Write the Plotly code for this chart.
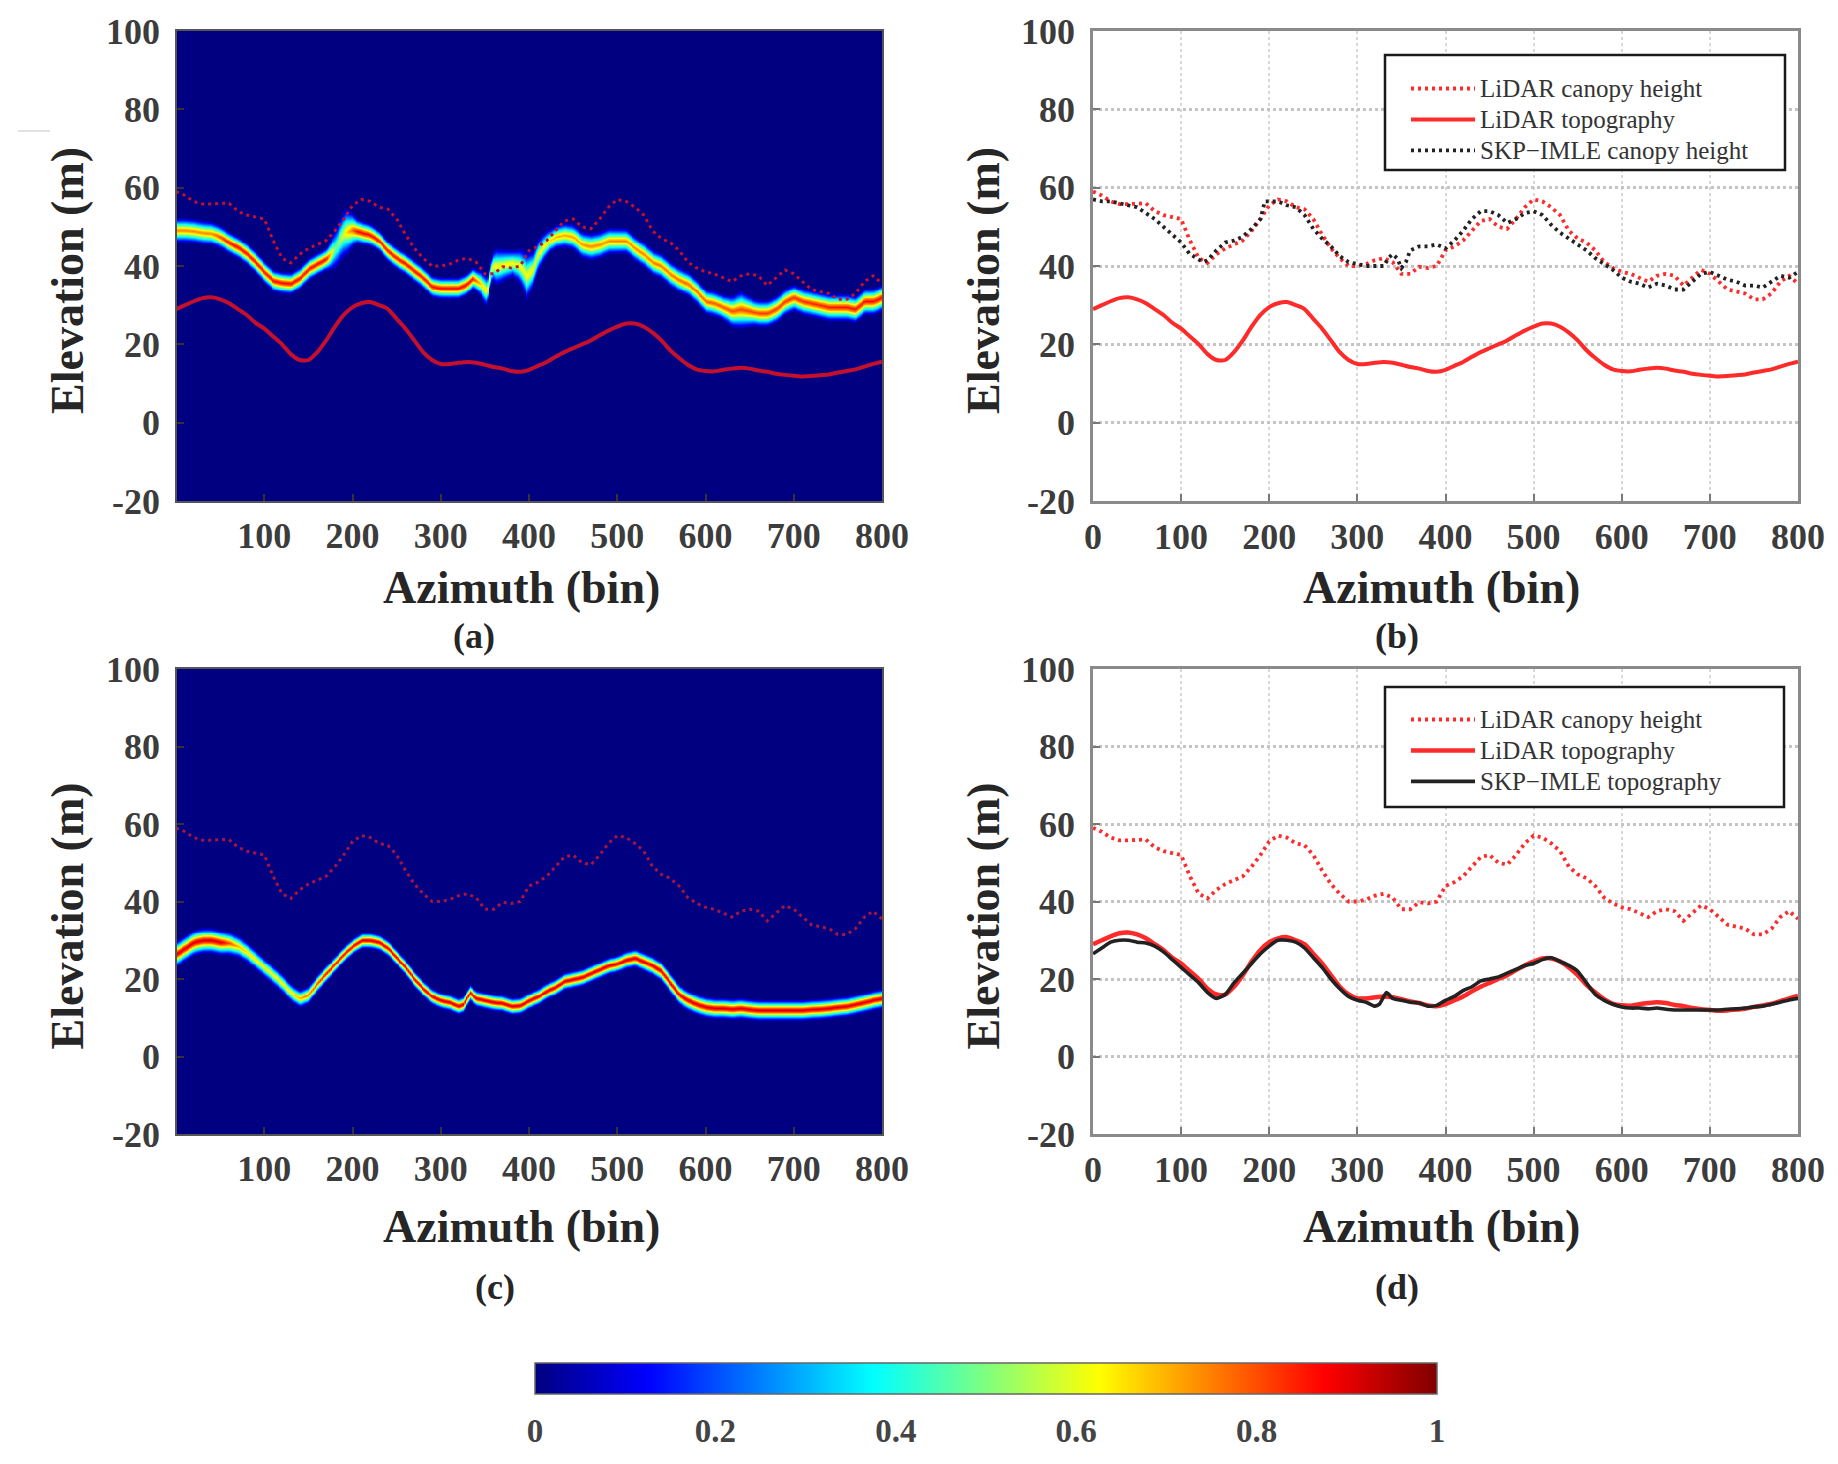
import numpy as np
import plotly.graph_objects as go

W, H = 1838, 1464

# ---- data ----
bins = list(range(0, 801, 10))
lidar_canopy = [59, 58, 56.5, 55.8, 55.8, 56, 56, 54, 53, 52.5, 52, 46.5, 42, 40.8, 43, 44.5, 45.5, 46.5, 49, 52,
                55.5, 57, 56.5, 55, 54.5, 52, 48, 44.5, 42, 40, 40, 40.5, 41.5, 42, 41, 38, 38, 39.8, 39.5, 40,
                44, 45, 46.5, 49, 51.5, 52, 50, 49.5, 52, 55, 57, 56.5, 55, 53, 49, 47, 46, 44, 41, 39.5,
                38.5, 38, 37, 36, 37.5, 38, 37.5, 35, 37, 39, 38, 36, 34, 33.5, 33, 31.5, 31.5, 33, 36, 37.5, 35.5]
lidar_topography = [29, 30, 31, 31.8, 32, 31.5, 30.5, 29, 27.5, 25.5, 24, 22, 20, 17.5, 16, 16, 18, 21, 24.5, 27.5,
                    29.5, 30.5, 30.8, 30, 29, 26.5, 24, 21, 18, 16, 15, 15, 15.3, 15.5, 15.3, 14.8, 14.2, 13.8, 13.2, 13,
                    13.5, 14.5, 15.5, 16.8, 18, 19, 20, 21, 22.3, 23.5, 24.5, 25.3, 25.3, 24.5, 23, 21, 18.5, 16.5, 14.8, 13.6,
                    13.2, 13.1, 13.5, 13.8, 14, 13.8, 13.3, 13, 12.5, 12.2, 12, 11.8, 11.9, 12.1, 12.3, 12.8, 13.2, 13.6, 14.3, 15, 15.6]

skp_canopy_bins = [0, 10, 20, 30, 40, 50, 60, 70, 80, 90, 100, 110, 120, 125, 130, 140, 150, 160, 170, 180, 190, 195,
                   200, 210, 220, 230, 240, 250, 260, 270, 280, 290, 300, 310, 320, 330, 335, 340, 345, 350, 355, 360,
                   370, 380, 390, 400, 410, 420, 430, 440, 450, 460, 470, 480, 490, 500, 510, 520, 530, 540, 550, 560,
                   570, 580, 590, 600, 610, 620, 630, 640, 650, 660, 670, 680, 690, 700, 710, 720, 730, 740, 750, 760,
                   770, 780, 790, 800]
skp_canopy = [57, 56.5, 56.5, 56, 55.5, 55, 53.5, 52, 50, 48, 46, 43, 41.5, 41, 41.5, 44, 46, 46.5, 47.5, 49.5, 52, 56.5,
              56.5, 56.5, 55.5, 55, 53, 49.5, 47, 45, 42.5, 41, 40.5, 40, 40, 40, 42, 43, 42, 39.5, 41, 44,
              45, 45, 45.5, 44.5, 46.5, 49, 52, 54, 54, 53, 51, 52, 53.5, 54, 53, 50.5, 48.5, 47, 45.5, 44,
              42, 40.5, 39, 37, 36, 35.5, 34.5, 35.5, 35, 34, 34, 36, 38, 38.5, 37.5, 36.5, 36, 35, 35, 34.5,
              36, 37.5, 37, 38.5]

skp_topo_bins = [0, 10, 20, 30, 40, 50, 60, 70, 80, 90, 100, 110, 120, 130, 140, 150, 160, 170, 180, 190, 200, 210,
                 220, 230, 240, 250, 260, 270, 280, 290, 300, 310, 320, 325, 333, 340, 350, 360, 370, 380, 390, 400,
                 410, 420, 430, 440, 450, 460, 470, 480, 490, 500, 510, 520, 530, 540, 550, 560, 570, 580, 590, 600,
                 610, 620, 630, 640, 650, 660, 670, 680, 690, 700, 710, 720, 730, 740, 750, 760, 770, 780, 790, 800]
skp_topography = [26.5, 28, 29.5, 30, 30, 29.5, 29.3, 28.5, 27, 25, 23, 21, 19, 16.5, 15, 16, 19, 21.5, 24, 26.5, 28.5, 30,
                  30, 29.5, 28, 25.5, 23, 20, 17.5, 15.5, 14.5, 14, 13, 13.5, 16.5, 15, 14.5, 14, 13.8, 13, 13.2, 14.5,
                  15.5, 17, 18, 19.5, 20, 20.5, 21.5, 22.5, 23.5, 24, 25, 25.5, 24.5, 23.5, 22, 19, 16, 14.5, 13.5, 12.8,
                  12.5, 12.5, 12.3, 12.5, 12.2, 12, 12, 12, 12, 12, 12, 12.2, 12.3, 12.5, 12.8, 13, 13.5, 14, 14.6, 15]

# tomogram (a): ridge centre, half width and peak of the bright band, by azimuth
ridge_a_bins = [1, 10, 20, 30, 40, 50, 60, 70, 80, 90, 100, 110, 120, 130, 140, 150, 160, 170, 180, 190, 200, 210,
                220, 230, 240, 250, 260, 270, 280, 290, 300, 310, 320, 330, 336, 345, 352, 358, 365, 381, 390, 397, 405,
                410, 420, 430, 440, 450, 460, 470, 480, 490, 500, 510, 520, 530, 540, 550, 560, 570, 580, 590, 600, 610,
                620, 630, 640, 650, 660, 670, 680, 690, 700, 710, 720, 730, 740, 750, 760, 770, 780, 790, 800]
ridge_a = [49.2, 49.2, 49, 48.6, 48.4, 47.5, 46, 44.8, 43.2, 41, 38.5, 36.3, 35.8, 35.6, 37, 39.3, 40.6, 41.8, 44.5, 48.5, 49.3, 48.6,
           48, 46.5, 43.8, 42, 40.6, 38.8, 37, 34.8, 34.4, 34.4, 34.4, 35.5, 37, 35.5, 33.5, 40, 40, 40.8, 40, 37.5, 39.5,
           43, 46, 47.5, 48, 47.5, 45.5, 45, 45.5, 46.5, 46.5, 46.5, 44.5, 43, 41, 40, 38, 36.5, 35.5, 33.5, 31, 30.5,
           29.5, 28.5, 29, 28.5, 28, 28, 29, 31, 32, 31, 30.5, 30, 29.5, 29.5, 29.5, 29, 31, 31, 32]
width_a_bins = [1, 40, 60, 170, 180, 192, 205, 230, 340, 350, 356, 362, 381, 390, 397, 405, 424, 470, 520, 620, 640, 655, 800]
width_a = [3.3, 3.2, 3, 3, 5.5, 6.5, 3.4, 2.9, 3, 4.3, 3, 5, 3.6, 4.8, 6.5, 4.8, 3.2, 3.7, 3.4, 3.4, 5, 3.6, 3.6]
peak_a_bins = [1, 40, 60, 170, 180, 190, 205, 335, 345, 358, 412, 430, 470, 500, 800]
peak_a = [0.85, 0.85, 1.0, 1.0, 0.55, 0.7, 1.0, 1.0, 0.78, 0.72, 0.72, 0.8, 0.85, 0.85, 1.0]

# tomogram (c) follows the estimated ground ridge
width_c_bins = [1, 50, 80, 200, 500, 560, 800]
width_c = [3.5, 3.4, 2.8, 2.2, 2.4, 2.8, 2.7]
peak_c_bins = [1, 50, 70, 100, 130, 145, 170, 220, 300, 800]
peak_c = [1.05, 1.05, 0.8, 0.72, 0.75, 0.85, 1.0, 1.05, 1.05, 1.05]

# brightness across the band, from lower edge to upper edge
band_offset = [-1, -0.8, -0.6, -0.4, -0.2, 0, 0.2, 0.4, 0.6, 0.8, 1]
band_level = [0, 0.14, 0.32, 0.52, 0.74, 0.88, 0.74, 0.52, 0.32, 0.14, 0]

y_ticks = [-20, 0, 20, 40, 60, 80, 100]
y_labels = ["-20", "0", "20", "40", "60", "80", "100"]
x_ticks_img = [100, 200, 300, 400, 500, 600, 700, 800]
x_ticks_line = [0, 100, 200, 300, 400, 500, 600, 700, 800]
cbar_ticks = [0, 0.2, 0.4, 0.6, 0.8, 1]
cbar_labels = ["0", "0.2", "0.4", "0.6", "0.8", "1"]

jet = [[0, "#000080"], [0.125, "#0000ff"], [0.375, "#00ffff"], [0.625, "#ffff00"], [0.875, "#ff0000"], [1, "#800000"]]

SERIF = "Liberation Serif"
TICK = "#3c3c3c"
TITLE = "#262626"


def tomogram(c_bins, centre, w_bins, w, p_bins, p):
    col = np.arange(1, 801, 2.0)
    row = np.arange(-20, 100.01, 0.25)
    cc = np.interp(col, c_bins, centre)
    ww = np.interp(col, w_bins, w)
    pp = np.interp(col, p_bins, p)
    u = (row[:, None] - cc[None, :]) / ww[None, :]
    z = np.interp(u, band_offset, band_level, left=0, right=0) * pp[None, :]
    return col, row, z


def px(x):
    return x / W


def py(y):
    return 1 - y / H


def entry(text):
    # row height follows the legend font size; the entry text is drawn a little larger
    return '<span style="font-size:25px">%s</span>' % text


panels = {
    "a": dict(x=(177, 882), y=(31, 501), ax="x", ay="y"),
    "b": dict(x=(1093, 1798), y=(31, 501), ax="x2", ay="y2"),
    "c": dict(x=(177, 882), y=(669, 1134), ax="x3", ay="y3"),
    "d": dict(x=(1093, 1798), y=(669, 1134), ax="x4", ay="y4"),
}

fig = go.Figure()

# (a)
xa, ya, za = tomogram(ridge_a_bins, ridge_a, width_a_bins, width_a, peak_a_bins, peak_a)
fig.add_trace(go.Heatmap(x=xa, y=ya, z=za, coloraxis="coloraxis", zsmooth="best", xaxis="x", yaxis="y"))
DARK = "#c4102c"
fig.add_trace(go.Scatter(x=bins, y=lidar_canopy, mode="lines", xaxis="x", yaxis="y", showlegend=False,
                         line=dict(color=DARK, width=3, dash="3px,4px")))
fig.add_trace(go.Scatter(x=bins, y=lidar_topography, mode="lines", xaxis="x", yaxis="y", showlegend=False,
                         line=dict(color=DARK, width=4, shape="spline", smoothing=0.7)))
# (c)
xc, yc, zc = tomogram(skp_topo_bins, skp_topography, width_c_bins, width_c, peak_c_bins, peak_c)
fig.add_trace(go.Heatmap(x=xc, y=yc, z=zc, coloraxis="coloraxis", zsmooth="best", xaxis="x3", yaxis="y3"))
fig.add_trace(go.Scatter(x=bins, y=lidar_canopy, mode="lines", xaxis="x3", yaxis="y3", showlegend=False,
                         line=dict(color="#a81440", width=3, dash="3px,4px")))

RED = "#ff2a2a"
BLACK = "#222222"
# (b)
fig.add_trace(go.Scatter(x=bins, y=lidar_canopy, mode="lines", xaxis="x2", yaxis="y2", legend="legend",
                         name=entry("LiDAR canopy height"), line=dict(color=RED, width=3.8, dash="3px,4px")))
fig.add_trace(go.Scatter(x=bins, y=lidar_topography, mode="lines", xaxis="x2", yaxis="y2", legend="legend",
                         name=entry("LiDAR topography"), line=dict(color=RED, width=4, shape="spline", smoothing=0.7)))
fig.add_trace(go.Scatter(x=skp_canopy_bins, y=skp_canopy, mode="lines", xaxis="x2", yaxis="y2", legend="legend",
                         name=entry("SKP\u2212IMLE canopy height"), line=dict(color=BLACK, width=3.8, dash="3px,4px")))
# (d)
fig.add_trace(go.Scatter(x=bins, y=lidar_canopy, mode="lines", xaxis="x4", yaxis="y4", legend="legend2",
                         name=entry("LiDAR canopy height"), line=dict(color=RED, width=3.8, dash="3px,4px")))
fig.add_trace(go.Scatter(x=bins, y=lidar_topography, mode="lines", xaxis="x4", yaxis="y4", legend="legend2",
                         name=entry("LiDAR topography"), line=dict(color=RED, width=4.5, shape="spline", smoothing=0.7)))
fig.add_trace(go.Scatter(x=skp_topo_bins, y=skp_topography, mode="lines", xaxis="x4", yaxis="y4", legend="legend2",
                         name=entry("SKP\u2212IMLE topography"), line=dict(color=BLACK, width=3.6, shape="spline", smoothing=0.5)))


def x_axis(p, image):
    d = panels[p]
    return dict(
        domain=[px(d["x"][0]), px(d["x"][1])], anchor=d["ay"],
        range=[1, 800] if image else [0, 800],
        tickmode="array", tickvals=x_ticks_img if image else x_ticks_line,
        tickfont=dict(family=SERIF, size=36, color=TICK, weight="bold"), tickangle=0,
        ticks="inside", ticklen=7, tickwidth=1.5, tickcolor="#333" if image else "#777",
        ticklabelstandoff=2, showline=True, mirror=True,
        linecolor="#555" if image else "#8a8a8a", linewidth=1.5 if image else 2.5,
        showgrid=not image, gridcolor="#d8d8d8", griddash="dot", gridwidth=1.5, zeroline=False,
    )


def y_axis(p, image):
    d = panels[p]
    return dict(
        domain=[py(d["y"][1]), py(d["y"][0])], anchor=d["ax"], range=[-20, 100],
        tickmode="array", tickvals=y_ticks, ticktext=y_labels,
        tickfont=dict(family=SERIF, size=36, color=TICK, weight="bold"),
        ticks="inside", ticklen=7, tickwidth=1.5, tickcolor="#333" if image else "#777",
        ticklabelstandoff=8, showline=True, mirror=True,
        linecolor="#555" if image else "#8a8a8a", linewidth=1.5 if image else 2.5,
        showgrid=not image, gridcolor="#c4c4c4", griddash="dot", gridwidth=2.5, zeroline=False,
    )


def note(text, x, y, size, angle=0):
    return dict(text="<b>%s</b>" % text, x=px(x), y=py(y), xref="paper", yref="paper", showarrow=False,
                xanchor="center", yanchor="middle", textangle=angle,
                font=dict(family=SERIF, size=size, color=TITLE))


annotations = []
for left, azimuth_left, top, bottom, xlab in [(0, 0, 31, 501, 587), (916, 920, 31, 501, 587),
                                              (0, 0, 669, 1134, 1226), (916, 920, 669, 1134, 1226)]:
    annotations.append(note("Azimuth (bin)", 521 + azimuth_left, xlab, 46))
    annotations.append(note("Elevation (m)", 67 + left, (top + bottom) / 2 + 15, 46, -90))
annotations += [note("(a)", 474, 636, 36), note("(b)", 1397, 636, 36), note("(c)", 495, 1287, 36), note("(d)", 1397, 1287, 36)]


def legend_at(x, y):
    return dict(x=px(x), y=py(y), xanchor="left", yanchor="top", bgcolor="rgba(0,0,0,0)", borderwidth=0,
                itemwidth=64, font=dict(family=SERIF, size=21.5, color="#333"), tracegroupgap=0,
                itemclick=False, itemdoubleclick=False)


def frame(x0, y0, x1, y1):
    return dict(type="rect", xref="paper", yref="paper", x0=px(x0), x1=px(x1), y0=py(y0), y1=py(y1),
                line=dict(color="#1a1a1a", width=2.5), fillcolor="white", layer="above")


bar_left, bar_right, bar_top, bar_bottom = 535, 1437, 1363, 1394
bar_marks = [dict(type="line", xref="paper", yref="paper",
                  x0=px(bar_left + (bar_right - bar_left) * v), x1=px(bar_left + (bar_right - bar_left) * v),
                  y0=py(bar_bottom), y1=py(bar_bottom - 9), line=dict(color="#444", width=1.5))
             for v in cbar_ticks[1:-1]]

fig.update_layout(
    width=W, height=H, margin=dict(l=0, r=0, t=0, b=0, pad=0, autoexpand=False),
    paper_bgcolor="white", plot_bgcolor="white", showlegend=True,
    xaxis=x_axis("a", True), yaxis=y_axis("a", True),
    xaxis2=x_axis("b", False), yaxis2=y_axis("b", False),
    xaxis3=x_axis("c", True), yaxis3=y_axis("c", True),
    xaxis4=x_axis("d", False), yaxis4=y_axis("d", False),
    legend=legend_at(1406, 68), legend2=legend_at(1406, 699),
    shapes=[frame(1385, 55, 1785, 170), frame(1385, 687, 1784, 807),
            dict(type="line", xref="paper", yref="paper", x0=px(18), x1=px(50), y0=py(131), y1=py(131),
                 line=dict(color="#d8d8d8", width=1.5))] + bar_marks,
    annotations=annotations,
    coloraxis=dict(
        cmin=0, cmax=1, colorscale=jet,
        colorbar=dict(orientation="h", x=px(bar_left), xanchor="left", y=py(bar_top), yanchor="top",
                      len=bar_right - bar_left, lenmode="pixels", thickness=bar_bottom - bar_top,
                      thicknessmode="pixels", xpad=0, ypad=0,
                      tickmode="array", tickvals=cbar_ticks, ticktext=cbar_labels,
                      ticks="outside", ticklen=8, tickwidth=1, tickcolor="rgba(0,0,0,0)",
                      tickfont=dict(family=SERIF, size=33, color="#444", weight="bold"),
                      outlinecolor="#666", outlinewidth=1.5, borderwidth=0),
    ),
)

fig.write_html("out.html", config={"displayModeBar": False},
               post_script="document.body.style.margin='0';document.body.style.overflow='hidden';")
